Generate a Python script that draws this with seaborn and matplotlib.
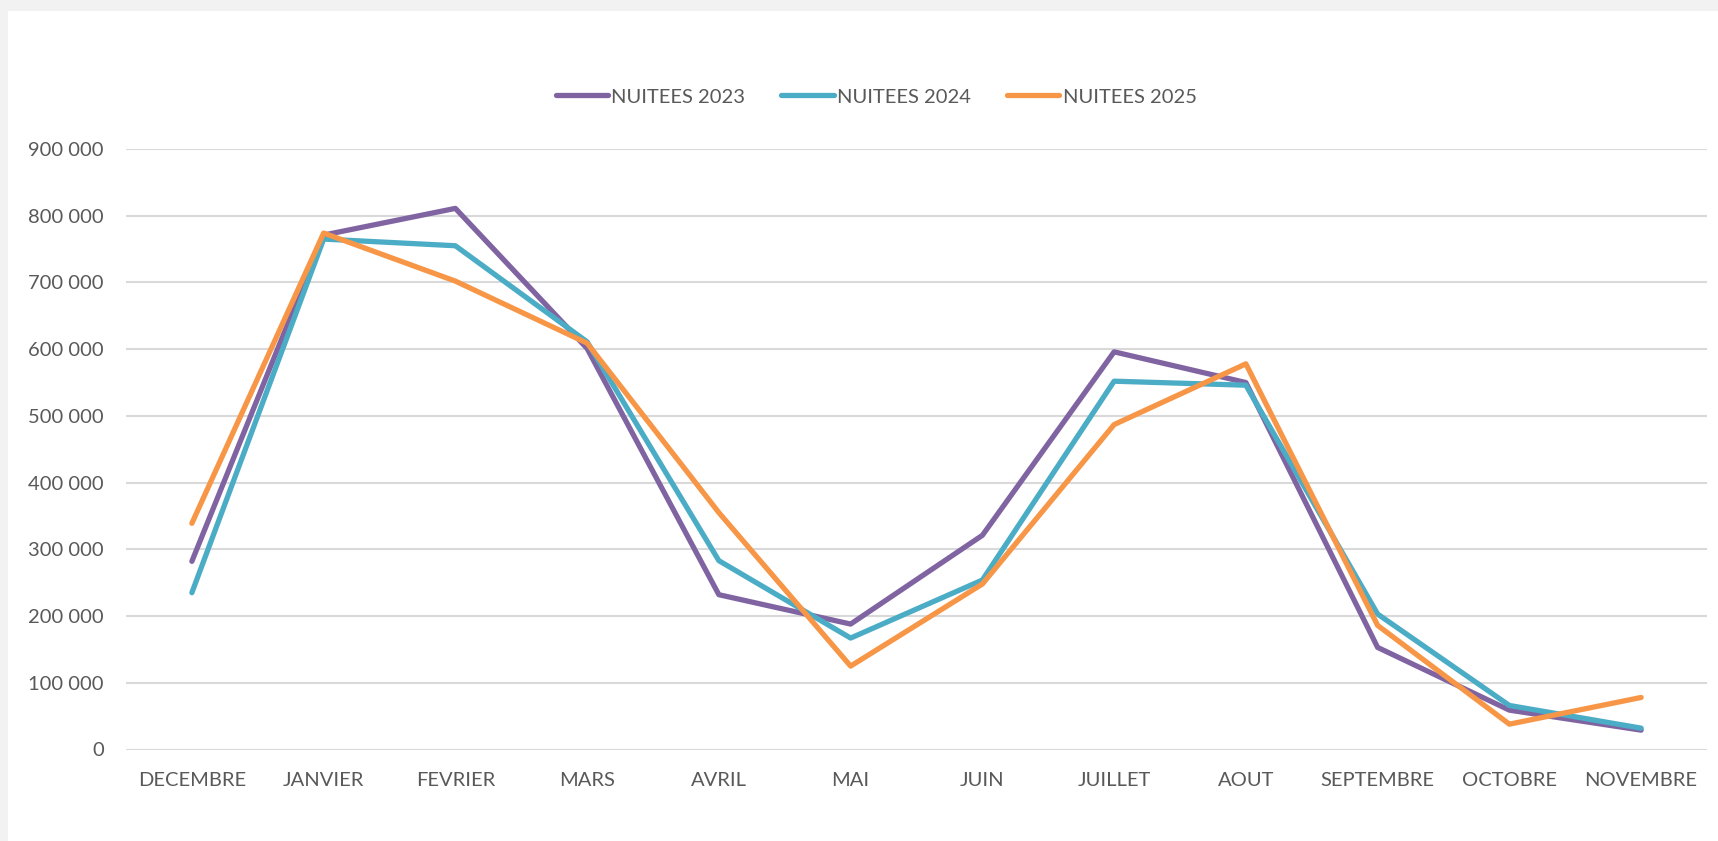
import pandas as pd
import matplotlib
matplotlib.use("Agg")
import matplotlib.pyplot as plt
import seaborn as sns
from matplotlib.patches import Rectangle

# ==========================
# Data
# ==========================

months = ["DECEMBRE", "JANVIER", "FEVRIER", "MARS", "AVRIL", "MAI",
          "JUIN", "JUILLET", "AOUT", "SEPTEMBRE", "OCTOBRE", "NOVEMBRE"]

nuitees_2023 = [282000, 771000, 811000, 601000, 232000, 188000,
                321000, 596000, 550000, 153000, 59000, 29000]
nuitees_2024 = [235000, 765000, 755000, 611000, 283000, 167000,
                254000, 552000, 546000, 203000, 66000, 32000]
nuitees_2025 = [339000, 774000, 702000, 609000, 355000, 125000,
                248000, 487000, 578000, 186000, 38000, 78000]

series_names = ["NUITEES 2023", "NUITEES 2024", "NUITEES 2025"]
colors = ["#8064A2", "#4BACC6", "#F79646"]

ytick_values = [0, 100000, 200000, 300000, 400000, 500000,
                600000, 700000, 800000, 900000]
ytick_labels = ["0", "100 000", "200 000", "300 000", "400 000", "500 000",
                "600 000", "700 000", "800 000", "900 000"]

df = pd.DataFrame({
    "mois": months * 3,
    "nuitees": nuitees_2023 + nuitees_2024 + nuitees_2025,
    "serie": [s for s in series_names for _ in months],
})

# ==========================
# Plot
# ==========================

sns.set_style("white")
plt.rcParams["font.family"] = ["Lato", "DejaVu Sans"]
text_color = "#595959"
fsize = 14.5

fig = plt.figure(figsize=(17.18, 8.41), dpi=100)
fig.patch.set_facecolor("#F2F2F2")
fig.add_artist(Rectangle((8 / 1718, 0), 1, 1 - 11 / 841,
                         transform=fig.transFigure, facecolor="white",
                         edgecolor="none", zorder=0))

ax = fig.add_axes([126 / 1718, 1 - 749.5 / 841, (1707 - 126) / 1718,
                   (749.5 - 149) / 841])
ax.set_facecolor("none")

sns.lineplot(data=df, x="mois", y="nuitees", hue="serie",
             palette=dict(zip(series_names, colors)), sort=False,
             linewidth=3.8, ax=ax, legend=False)

ax.set_xlim(-0.5, len(months) - 0.5)
ax.set_ylim(0, 900000)
ax.set_yticks(ytick_values)
ax.set_yticklabels(ytick_labels)
ax.set_xlabel("")
ax.set_ylabel("")

ax.yaxis.grid(True, color="#D9D9D9", linewidth=1.5)
ax.set_axisbelow(True)
for s in ax.spines.values():
    s.set_visible(False)

ax.tick_params(axis="both", length=0, labelsize=fsize, labelcolor=text_color)
ax.tick_params(axis="y", pad=16)
ax.tick_params(axis="x", pad=16)

handles = [plt.Line2D([], [], color=c, linewidth=3.8, solid_capstyle="round")
           for c in colors]
fig.legend(handles, series_names, loc="center", ncol=3,
           bbox_to_anchor=(0.51, 1 - 97 / 841), frameon=False,
           fontsize=fsize, labelcolor=text_color, handlelength=2.6,
           handletextpad=0.15, columnspacing=1.8)

plt.savefig("out.png", dpi=100, facecolor=fig.get_facecolor())
